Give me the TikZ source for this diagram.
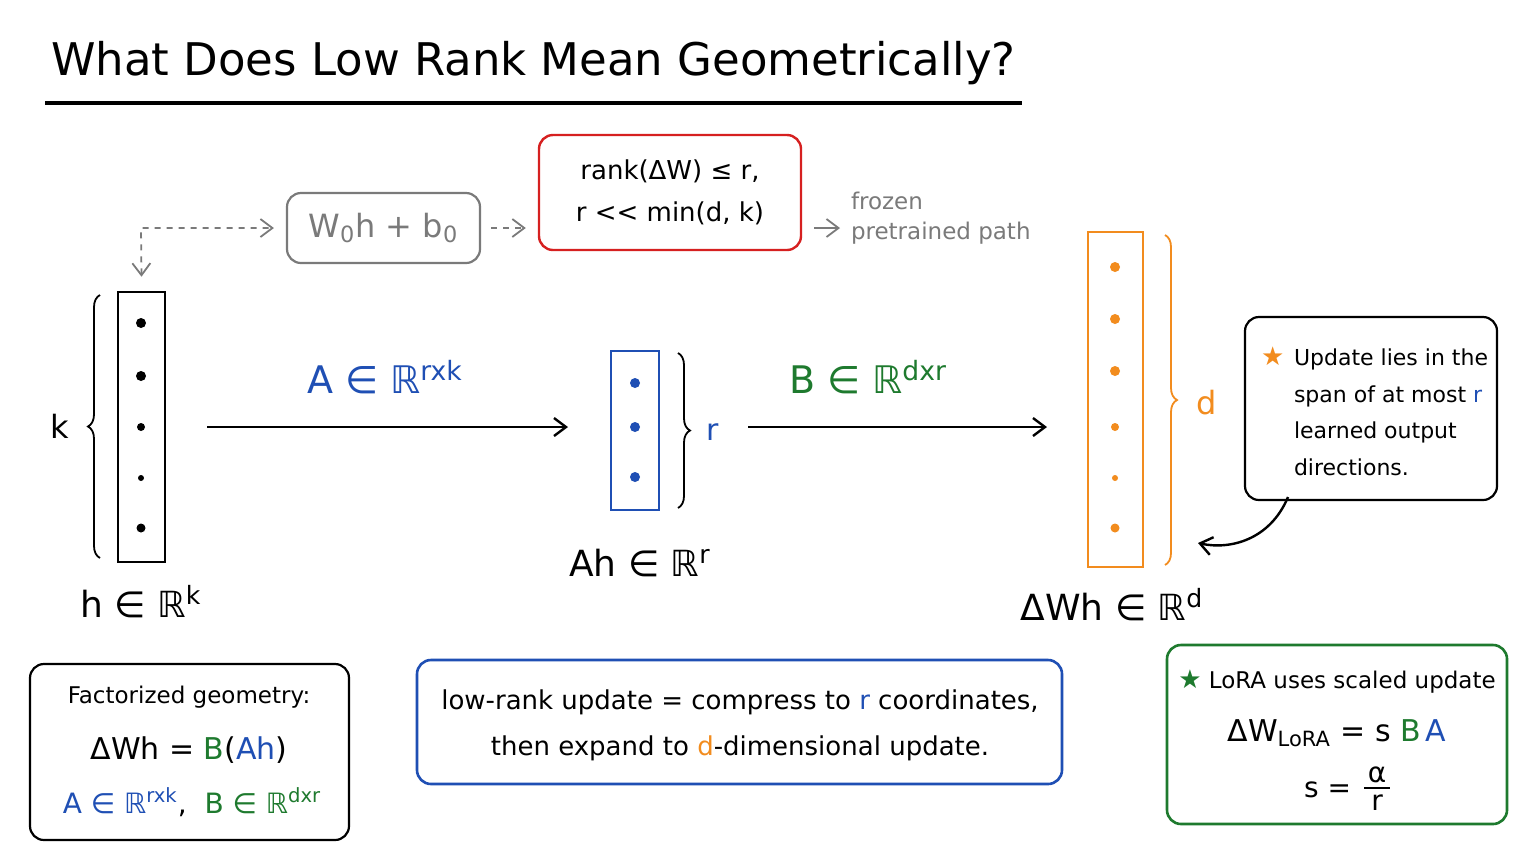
\documentclass[tikz,border=0pt]{standalone}
\usepackage{fontspec}
\setmainfont{DejaVu Sans}
\usetikzlibrary{decorations.pathreplacing,arrows.meta}
\definecolor{cblue}{HTML}{1F4FB4}
\definecolor{cgreen}{HTML}{1E7A2E}
\definecolor{corange}{HTML}{F28C1E}
\definecolor{cred}{HTML}{D62020}
\definecolor{cgray}{HTML}{7A7A7A}
\newcommand{\fsz}[1]{\fontsize{#1}{#1}\selectfont}
\newcommand{\sps}[1]{\textsuperscript{#1}}
\begin{document}
\begin{tikzpicture}[x=0.5pt,y=-0.5pt,line width=1pt,
  box/.style={draw,rounded corners=7pt,line width=1.1pt},
  vec/.style={draw,line width=1.3pt},
  dot/.style={circle,fill,inner sep=0pt,minimum size=4pt},
  arr/.style={-{Straight Barb[length=6pt,width=9pt]},line width=1.2pt},
  brc/.style={decorate,decoration={brace,amplitude=6pt},line width=0.9pt},
  txt/.style={inner sep=0pt,anchor=base}]
\useasboundingbox (0,0) rectangle (1536,864);
\fill[white] (0,0) rectangle (1536,864);
% title
\node[txt,anchor=base west] (title) at (50,75) {\fsz{22.5}What Does Low Rank Mean Geometrically?};
\draw[line width=1.6pt] (45,103) coordinate (u1) -- (1022,103) coordinate (u2);
% frozen path
\node[box,draw=cgray,minimum width=96.5pt,minimum height=35pt,text=cgray] (w0) at (383.5,228) {\fsz{16}W\textsubscript{0}h + b\textsubscript{0}};
\node[box,draw=cred,line width=1.2pt,minimum width=131pt,minimum height=57.5pt,align=center] (rank) at (670,192.5) {\fsz{13}rank(ΔW) ≤ r,\\[9pt]\fsz{13}r {<}{<} min(d, k)};
\node[txt,anchor=west,text=cgray,align=left] (frozen) at (850,218) {\fsz{11.5}frozen\\[3pt]\fsz{11.5}pretrained path};
% h vector
\node[vec,minimum width=23.5pt,minimum height=135pt,inner sep=0pt] (h) at (141.5,427) {};
\foreach \y/\s in {323/5,376/5,427/4,478/3,528/4.5} \node[dot,minimum size=\s pt] at (141,\y) {};
\draw[brc] (100,558) coordinate (hb1) -- (100,295) coordinate (hb2);
\node[txt] (k) at (60,438) {\fsz{16}k};
\node[txt] (hl) at (141,617) {\fsz{18}h ∈ ℝ\sps{k}};
\coordinate (d0) at (141,228);
\draw[{Straight Barb[length=6pt,width=9pt]}-{Straight Barb[length=6pt,width=9pt]},dashed,cgray,line width=0.9pt] ([yshift=7pt]h.north) -- (d0) -- ([xshift=-6pt]w0.west);
\draw[arr,dashed,cgray,line width=0.9pt] ([xshift=5pt]w0.east) -- ([xshift=-6pt]rank.west |- w0.east);
\draw[arr,cgray,line width=0.9pt] ([xshift=6pt]rank.east |- w0.east) -- ([xshift=-5pt]frozen.west |- w0.east);
% vectors
\node[vec,draw=cblue,minimum width=24pt,minimum height=79.5pt,inner sep=0pt] (ah) at (635,430.5) {};
\foreach \y in {383,427,477} \node[dot,cblue,minimum size=5pt] at (635,\y) {};
\node[vec,draw=corange,minimum width=27.5pt,minimum height=167.5pt,inner sep=0pt] (dw) at (1115.5,399.5) {};
\foreach \y/\s in {267/5,319/5,371/5,427/4,478/3,528/4.5} \node[dot,corange,minimum size=\s pt] at (1115,\y) {};
\coordinate (a1) at (207,427); \coordinate (a2) at (568,427);
\coordinate (b1) at (748,427); \coordinate (b2) at (1047,427);
\draw[arr] (a1) -- (a2);
\draw[arr] (b1) -- (b2);
\node[txt,text=cblue] (Al) at (385,393) {\fsz{19}A ∈ ℝ\sps{rxk}};
\draw[brc] (678,353) -- (678,508);
\node[txt,text=cblue] (rl) at (713,440) {\fsz{15}r};
\node[txt] (ahl) at (640,576) {\fsz{18}Ah ∈ ℝ\sps{r}};
\node[txt,text=cgreen] (Bl) at (868,393) {\fsz{19}B ∈ ℝ\sps{dxr}};
\draw[brc,corange] (1165,235) -- (1165,565);
\node[txt,text=corange] (dl) at (1207,414) {\fsz{16}d};
\node[txt] (dwl) at (1112,620) {\fsz{18}ΔWh ∈ ℝ\sps{d}};
% note
\node[box,minimum width=126pt,minimum height=91.5pt] (note) at (1371,408.5) {};
\node[txt,anchor=base west,text=corange] (st1) at (1260,365) {\fsz{13}★};
\node[txt,anchor=base west] (n1) at (1293,365) {\fsz{11}Update lies in the};
\node[txt,anchor=base west] (n2) at (1293,402) {\fsz{11}span of at most \textcolor{cblue}{r}};
\node[txt,anchor=base west] (n3) at (1293,438) {\fsz{11}learned output};
\node[txt,anchor=base west] (n4) at (1293,475) {\fsz{11}directions.};
\coordinate (c1) at (1288,497); \coordinate (c2) at (1198,543);
\draw[arr] (c1) .. controls (1270,540) and (1230,550) .. (c2);
% bottom left
\node[box,minimum width=159.5pt,minimum height=88pt] (fg) at (189.5,752) {};
\node[txt] (f1) at (189,703) {\fsz{11.5}Factorized geometry:};
\node[txt] (f2) at (189,759) {\fsz{15}ΔWh = \textcolor{cgreen}{B}(\textcolor{cblue}{Ah})};
\node[txt] (f3) at (192,813) {\fsz{14}\textcolor{cblue}{A ∈ ℝ\sps{rxk}},\ \ \textcolor{cgreen}{B ∈ ℝ\sps{dxr}}};
% middle
\node[box,draw=cblue,line width=1.3pt,minimum width=322.5pt,minimum height=62pt] (mid) at (739.5,722) {};
\node[txt] (m1) at (740,709) {\fsz{13}low-rank update = compress to \textcolor{cblue}{r} coordinates,};
\node[txt] (m2) at (740,755) {\fsz{13}then expand to \textcolor{corange}{d}-dimensional update.};
% right
\node[box,draw=cgreen,line width=1.3pt,minimum width=170pt,minimum height=89.5pt] (lr) at (1337,734.5) {};
\node[txt] (l1) at (1337,688) {\fsz{11.5}\textcolor{cgreen}{\fsz{13}★} LoRA uses scaled update};
\node[txt] (l2) at (1337,741) {\fsz{15}ΔW\textsubscript{LoRA} = s \textcolor{cgreen}{B}\,\textcolor{cblue}{A}};
\node[txt,anchor=base east] (l3) at (1352,797) {\fsz{14}s = };
\node[txt] (l4) at (1377,782) {\fsz{14}α};
\node[txt] (l5) at (1377,810) {\fsz{14}r};
\draw[line width=0.8pt] (1364,788) coordinate (fr1) -- (1390,788) coordinate (fr2);
\end{tikzpicture}
\end{document}
